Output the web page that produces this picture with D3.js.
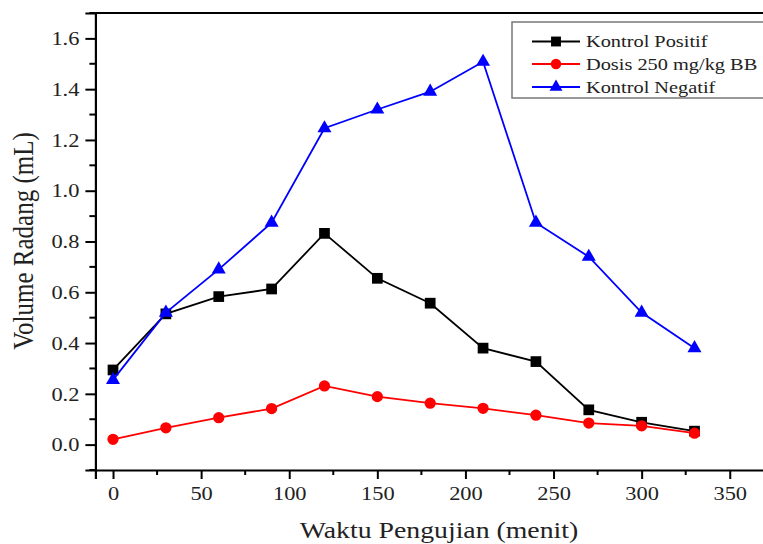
<!DOCTYPE html>
<html>
<head>
<meta charset="utf-8">
<script src="https://cdn.jsdelivr.net/npm/d3@7"></script>
<style>
  body { margin: 0; background: #fff; }
  svg text { font-family: "Liberation Serif", "Times New Roman", "DejaVu Serif", serif; }
</style>
</head>
<body>
<div id="chart"></div>
<script>
// time points (menit)
const waktu = [0, 30, 60, 90, 120, 150, 180, 210, 240, 270, 300, 330];

// series values (mL)
const kontrolPositif = [0.294, 0.515, 0.583, 0.613, 0.832, 0.655, 0.557, 0.38, 0.327, 0.137, 0.088, 0.053];
const dosis250 = [0.021, 0.066, 0.106, 0.142, 0.231, 0.189, 0.163, 0.143, 0.116, 0.085, 0.074, 0.045];
const kontrolNegatif = [0.255, 0.52, 0.69, 0.874, 1.246, 1.32, 1.39, 1.508, 0.874, 0.74, 0.52, 0.38];

const seriesNames = ["Kontrol Positif", "Dosis 250 mg/kg BB", "Kontrol Negatif"];
const xTicks = [0, 50, 100, 150, 200, 250, 300, 350];
const yTicks = [0, 0.2, 0.4, 0.6, 0.8, 1.0, 1.2, 1.4, 1.6];

const width = 763, height = 544;
const stretch = 1.15; // the original figure is a bit wider than tall

const series = [
    { name: seriesNames[0], values: kontrolPositif, color: "#000000", symbol: d3.symbolSquare, size: 115 },
    { name: seriesNames[1], values: dosis250, color: "#ff0000", symbol: d3.symbolCircle, size: 100 },
    { name: seriesNames[2], values: kontrolNegatif, color: "#0000ff", symbol: d3.symbolTriangle, size: 85 }
];

const svg = d3.select("#chart").append("svg")
    .attr("width", width)
    .attr("height", height);

// plot area runs off the right edge, like the reference
const x = d3.scaleLinear().domain([-10, 375]).range([95.4, 773.8]);
const y = d3.scaleLinear().domain([-0.1, 1.7]).range([470, 13]);

// frame: top line (left and bottom come from the axes)
svg.append("line").attr("x1", x(-10)).attr("x2", width).attr("y1", y(1.7)).attr("y2", y(1.7))
    .attr("stroke", "#000").attr("stroke-width", 2);

// minor ticks
const xMinor = d3.range(25, 375, 50);
const yMinor = d3.range(-0.1, 1.75, 0.2).map(v => +v.toFixed(1));

const xAxis = svg.append("g").attr("transform", `translate(0,${y(-0.1)})`)
    .call(d3.axisBottom(x).tickValues(xTicks).tickFormat(d3.format("d")).tickSizeOuter(0).tickSize(9).tickPadding(7));
xAxis.selectAll(".minor").data(xMinor).enter().append("line")
    .attr("class", "minor").attr("x1", d => x(d)).attr("x2", d => x(d))
    .attr("y1", 0).attr("y2", 5).attr("stroke", "#000").attr("stroke-width", 2);

const yAxis = svg.append("g").attr("transform", `translate(${x(-10)},0)`)
    .call(d3.axisLeft(y).tickValues(yTicks).tickFormat(d3.format(".1f")).tickSizeOuter(0).tickSize(10).tickPadding(6));
yAxis.selectAll(".minor").data(yMinor).enter().append("line")
    .attr("class", "minor").attr("y1", d => y(d)).attr("y2", d => y(d))
    .attr("x1", 0).attr("x2", -6).attr("stroke", "#000").attr("stroke-width", 2);

svg.selectAll("g").attr("font-family", null);
svg.selectAll(".domain").attr("stroke-width", 2.2);
svg.selectAll(".tick line").attr("stroke-width", 2);
svg.selectAll(".tick text").attr("font-size", 19.5).attr("fill", "#222");
xAxis.selectAll(".tick text").attr("transform", `scale(${stretch},1)`);
yAxis.selectAll(".tick text").attr("x", -16 / stretch).attr("transform", `scale(${stretch},1)`);

// lines and markers
const line = d3.line().x((d, i) => x(waktu[i])).y(d => y(d));

series.forEach(s => {
    svg.append("path")
        .datum(s.values)
        .attr("fill", "none")
        .attr("stroke", s.color)
        .attr("stroke-width", 1.8)
        .attr("d", line);

    svg.append("g").selectAll("path")
        .data(s.values)
        .enter().append("path")
        .attr("transform", (d, i) => `translate(${x(waktu[i])},${y(d)})`)
        .attr("d", d3.symbol().type(s.symbol).size(s.size))
        .attr("fill", s.color);
});

// axis titles
svg.append("text")
    .attr("transform", `translate(439,538) scale(${stretch * 1.05},1)`)
    .attr("text-anchor", "middle")
    .attr("font-size", 23).attr("fill", "#222")
    .text("Waktu Pengujian (menit)");

svg.append("text")
    .attr("transform", `translate(33,241) rotate(-90) scale(1,${stretch * 1.05})`)
    .attr("text-anchor", "middle")
    .attr("font-size", 25).attr("fill", "#222")
    .text("Volume Radang (mL)");

// legend
const legend = svg.append("g").attr("transform", "translate(512,22)");
legend.append("rect")
    .attr("x", 0).attr("y", 0).attr("width", 270).attr("height", 76)
    .attr("fill", "#fff").attr("stroke", "#777").attr("stroke-width", 1.5);

const rowY = [19.5, 42, 65];
series.forEach((s, i) => {
    const row = legend.append("g").attr("transform", `translate(0,${rowY[i]})`);
    row.append("line").attr("x1", 20).attr("x2", 68).attr("y1", 0).attr("y2", 0)
        .attr("stroke", s.color).attr("stroke-width", 1.8);
    row.append("path")
        .attr("transform", "translate(44,0)")
        .attr("d", d3.symbol().type(s.symbol).size(s.size * 0.85))
        .attr("fill", s.color);
    row.append("text")
        .attr("transform", `translate(74,5.5) scale(${stretch},1)`)
        .attr("font-size", 17.7).attr("fill", "#222")
        .text(s.name);
});
</script>
</body>
</html>
